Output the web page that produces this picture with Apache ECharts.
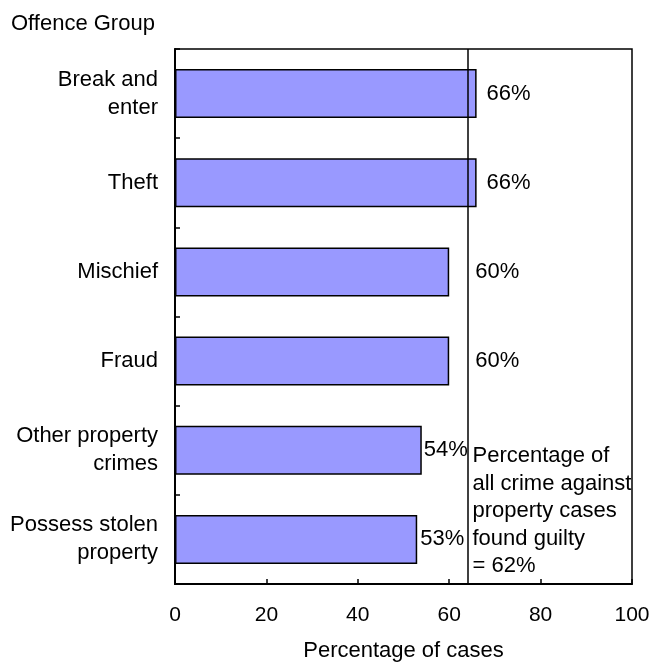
<!DOCTYPE html>
<html>
<head>
<meta charset="utf-8">
<script src="https://cdn.jsdelivr.net/npm/echarts@6/dist/echarts.min.js"></script>
<style>
html,body{margin:0;padding:0;background:#fff;}
#chart{width:652px;height:664px;}
</style>
</head>
<body>
<div id="chart"></div>
<script>
const categories = ['Break and\nenter', 'Theft', 'Mischief', 'Fraud', 'Other property\ncrimes', 'Possess stolen\nproperty'];
const values = [66, 66, 60, 60, 54, 53];
const labelDistances = [10, 10, 26, 26, 2, 3];
const overallValue = 64;
const overallText = 'Percentage of\nall crime against\nproperty cases\nfound guilty\n= 62%';
const xTicks = [0, 20, 40, 60, 80, 100];

const FONT = 'Liberation Sans, Arial, Helvetica, sans-serif';
const FS = 22;

const chart = echarts.init(document.getElementById('chart'), null, {renderer: 'canvas'});
chart.setOption({
  animation: false,
  backgroundColor: '#fff',
  textStyle: {fontFamily: FONT, color: '#000'},
  title: {
    text: 'Offence Group',
    left: 6, top: 8,
    textStyle: {fontFamily: FONT, fontSize: FS, fontWeight: 'normal', color: '#000'}
  },
  grid: {
    left: 175, right: 20, top: 49, bottom: 80,
    containLabel: false,
    outerBoundsMode: 'none',
    show: true, borderColor: '#000', borderWidth: 1.5, backgroundColor: 'transparent'
  },
  xAxis: {
    type: 'value',
    min: xTicks[0], max: xTicks[xTicks.length - 1], interval: 20,
    name: 'Percentage of cases',
    nameLocation: 'middle',
    nameGap: 56,
    nameTextStyle: {fontFamily: FONT, fontSize: FS, color: '#000'},
    axisLine: {show: true, lineStyle: {color: '#000', width: 2}},
    axisTick: {show: true, inside: true, length: 5, lineStyle: {color: '#000', width: 1.5}},
    axisLabel: {fontFamily: FONT, fontSize: 21, color: '#000', margin: 21, hideOverlap: false},
    splitLine: {show: false}
  },
  yAxis: {
    type: 'category',
    data: categories,
    inverse: true,
    axisLine: {show: true, lineStyle: {color: '#000', width: 2}},
    axisTick: {show: true, inside: true, length: 5, lineStyle: {color: '#000', width: 1.5}},
    axisLabel: {fontFamily: FONT, fontSize: FS, color: '#000', margin: 17, lineHeight: 28, align: 'right'},
    splitLine: {show: false}
  },
  series: [{
    type: 'bar',
    data: values.map((v, i) => ({
      value: v,
      label: {distance: labelDistances[i]}
    })),
    barCategoryGap: '45%',
    itemStyle: {color: '#9999FF', borderColor: '#000', borderWidth: 1.5},
    label: {
      show: true, position: 'right',
      formatter: '{c}%',
      fontFamily: FONT, fontSize: FS, color: '#000'
    },
    markLine: {
      silent: true,
      symbol: 'none',
      lineStyle: {color: '#000', width: 1.5, type: 'solid'},
      label: {show: false},
      data: [{xAxis: overallValue}]
    },
    markPoint: {
      silent: true,
      symbol: 'circle',
      symbolSize: 0,
      data: [{coord: [overallValue, categories[5]], value: 0}],
      label: {
        show: true,
        position: 'right',
        distance: 5,
        offset: [0, -28],
        formatter: overallText,
        fontFamily: FONT, fontSize: FS, color: '#000',
        lineHeight: 27.5, align: 'left', verticalAlign: 'middle'
      }
    }
  }]
});
</script>
</body>
</html>
